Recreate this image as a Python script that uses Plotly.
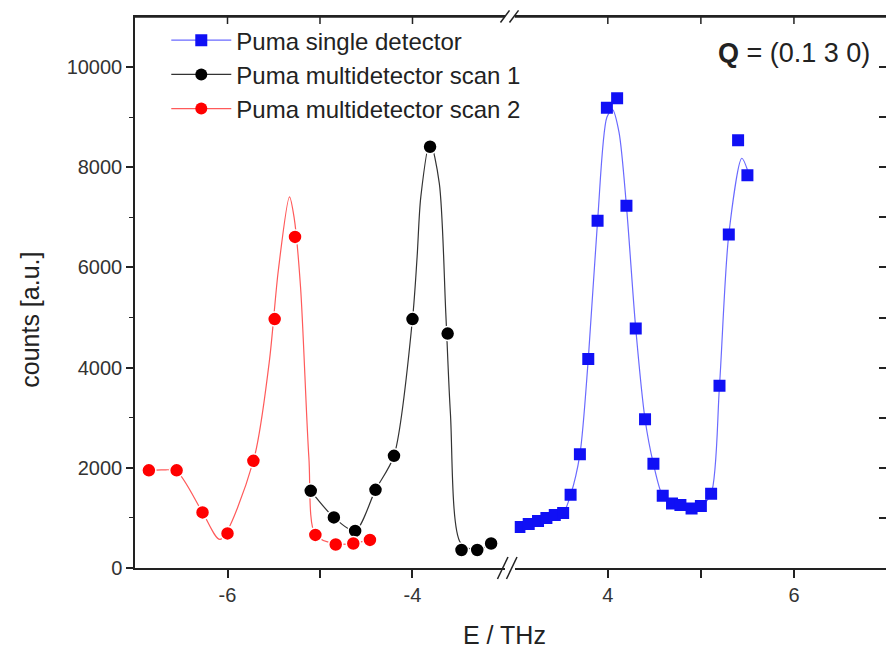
import plotly.graph_objects as go

# ---------------- data ----------------
# Puma single detector (positive energy side)
E_single = [3.05, 3.15, 3.25, 3.34, 3.43, 3.52, 3.60, 3.70, 3.79, 3.89, 3.99, 4.10, 4.20,
            4.30, 4.40, 4.49, 4.59, 4.69, 4.78, 4.90, 5.00, 5.11, 5.20, 5.30, 5.40, 5.50]
C_single = [820, 880, 940, 1000, 1060, 1100, 1460, 2270, 4170, 6930, 9190, 9380, 7230,
            4780, 2970, 2080, 1440, 1290, 1260, 1190, 1240, 1480, 3640, 6660, 8540, 7840]
# fitted curve drawn through the single detector data
E_single_fit = [3.05, 3.15, 3.25, 3.34, 3.43, 3.52, 3.60, 3.70, 3.79, 3.89, 3.99, 4.05, 4.12,
                4.20, 4.30, 4.40, 4.49, 4.59, 4.69, 4.78, 4.90, 5.00, 5.11, 5.20, 5.30, 5.44, 5.50]
C_single_fit = [820, 880, 940, 1000, 1060, 1100, 1460, 2270, 4170, 6930, 9000, 9150, 8700,
                7230, 4780, 2970, 2080, 1440, 1290, 1260, 1190, 1240, 1480, 3640, 6660, 8180, 7950]

# Puma multidetector scan 1
E_scan1 = [-5.10, -4.85, -4.62, -4.40, -4.20, -4.00, -3.81, -3.62, -3.47, -3.30, -3.15]
C_scan1 = [1540, 1010, 740, 1560, 2240, 4970, 8410, 4680, 360, 360, 490]
E_scan1_fit = [-5.10, -4.85, -4.62, -4.40, -4.20, -4.00, -3.95, -3.91, -3.81, -3.71,
               -3.64, -3.59, -3.48, -3.30, -3.15]
C_scan1_fit = [1540, 1010, 740, 1560, 2240, 4970, 6210, 7410, 8500, 7680,
               5090, 3090, 500, 360, 490]

# Puma multidetector scan 2
E_scan2 = [-6.85, -6.55, -6.27, -6.00, -5.72, -5.49, -5.27, -5.05, -4.83, -4.64, -4.46]
C_scan2 = [1950, 1950, 1110, 690, 2140, 4970, 6610, 660, 470, 490, 560]
E_scan2_fit = [-6.85, -6.70, -6.55, -6.27, -6.08, -5.72, -5.55, -5.45, -5.33, -5.28, -5.21,
               -5.12, -5.05, -4.83, -4.64, -4.46]
C_scan2_fit = [1950, 1960, 1930, 1110, 570, 2140, 4090, 5950, 7410, 7000, 5600,
               2200, 660, 480, 490, 560]

names = ["Puma single detector", "Puma multidetector scan 1", "Puma multidetector scan 2"]

x_left_ticks = [-6, -5, -4]
x_left_text = ["-6", "", "-4"]
x_right_ticks = [4, 5, 6]
x_right_text = ["4", "", "6"]
y_ticks = [0, 2000, 4000, 6000, 8000, 10000]
y_text = ["0", "2000", "4000", "6000", "8000", "10000"]
y_minor = [1000, 3000, 5000, 7000, 9000]

# ---------------- styling ----------------
FONT = "Arial, Liberation Sans, sans-serif"
BLUE, BLUE_LINE = "#1010f5", "#6a6aff"
BLACK, BLACK_LINE = "#000000", "#333333"
RED, RED_LINE = "#ff0000", "#ff5a5a"
AX = "#222222"
PLOT_H = 551.0  # plot-area height in px (used to express tick length in paper units)

fig = go.Figure()

# empty trace so that the right frame axis gets drawn
fig.add_trace(go.Scatter(x=[None], y=[None], xaxis="x2", yaxis="y2", showlegend=False,
                         hoverinfo="skip"))

# fit curves
fig.add_trace(go.Scatter(x=E_single_fit, y=C_single_fit, xaxis="x2", yaxis="y", mode="lines",
                         line=dict(color=BLUE_LINE, width=1.2, shape="spline", smoothing=0.8),
                         showlegend=False, hoverinfo="skip"))
fig.add_trace(go.Scatter(x=E_scan1_fit, y=C_scan1_fit, xaxis="x", yaxis="y", mode="lines",
                         line=dict(color=BLACK_LINE, width=1.2, shape="spline", smoothing=0.8),
                         showlegend=False, hoverinfo="skip"))
fig.add_trace(go.Scatter(x=E_scan2_fit, y=C_scan2_fit, xaxis="x", yaxis="y", mode="lines",
                         line=dict(color=RED_LINE, width=1.2, shape="spline", smoothing=0.8),
                         showlegend=False, hoverinfo="skip"))

# data markers
fig.add_trace(go.Scatter(x=E_single, y=C_single, xaxis="x2", yaxis="y", mode="markers",
                         marker=dict(symbol="square", size=12, color=BLUE),
                         showlegend=False, name=names[0]))
fig.add_trace(go.Scatter(x=E_scan1, y=C_scan1, xaxis="x", yaxis="y", mode="markers",
                         marker=dict(symbol="circle", size=14, color=BLACK,
                                     line=dict(color="white", width=1.5)),
                         showlegend=False, name=names[1]))
fig.add_trace(go.Scatter(x=E_scan2, y=C_scan2, xaxis="x", yaxis="y", mode="markers",
                         marker=dict(symbol="circle", size=14, color=RED,
                                     line=dict(color="white", width=1.5)),
                         showlegend=False, name=names[2]))

# legend entries (line + symbol)
for nm, lc, mc, sym in [(names[0], BLUE_LINE, BLUE, "square"),
                        (names[1], BLACK_LINE, BLACK, "circle"),
                        (names[2], RED_LINE, RED, "circle")]:
    fig.add_trace(go.Scatter(x=[None], y=[None], xaxis="x", yaxis="y", mode="lines+markers",
                             name=nm, line=dict(color=lc, width=1.2),
                             marker=dict(symbol=sym, size=12, color=mc)))

# ---------------- layout ----------------
L0, R0 = 0.492, 0.505
common_x = dict(showline=True, mirror=True, linecolor=AX, linewidth=1.5, showgrid=False,
                zeroline=False, ticks="outside", ticklen=8, tickwidth=1.5, tickcolor=AX,
                automargin=False, tickfont=dict(family=FONT, size=20, color="#333333"))

fig.update_layout(
    width=886, height=644,
    margin=dict(l=127, r=7, t=9, b=84, autoexpand=False),
    paper_bgcolor="white", plot_bgcolor="rgba(0,0,0,0)",
    font=dict(family=FONT, color="#222222"),
    xaxis=dict(domain=[0, L0], range=[-7, -3], tickmode="array",
               tickvals=x_left_ticks, ticktext=x_left_text, anchor="y", **common_x),
    xaxis2=dict(domain=[R0, 1], range=[3, 7], tickmode="array",
                tickvals=x_right_ticks, ticktext=x_right_text, anchor="y", **common_x),
    yaxis=dict(domain=[0, 1], range=[0, 11000], tickmode="array", tickvals=y_ticks,
               ticktext=y_text, anchor="x", showline=True, linecolor=AX, linewidth=1.5,
               showgrid=False, zeroline=False, ticks="outside", ticklen=7, tickwidth=1.5,
               tickcolor=AX, automargin=False,
               tickfont=dict(family=FONT, size=20, color="#333333"),
               minor=dict(tickmode="array", tickvals=y_minor,
                          ticks="outside", ticklen=4, tickwidth=1.2, tickcolor=AX)),
    yaxis2=dict(domain=[0, 1], side="right", anchor="free", position=1, range=[0, 11000],
                tickmode="linear", tick0=0, dtick=1000, showticklabels=False,
                showline=True, linecolor=AX, linewidth=1.5, showgrid=False, zeroline=False,
                ticks="inside", ticklen=7, tickwidth=1.5, tickcolor=AX, automargin=False),
    legend=dict(x=0.0416, y=0.998, xanchor="left", yanchor="top",
                bgcolor="rgba(0,0,0,0)", font=dict(family=FONT, size=24, color="#222222"),
                itemwidth=60, tracegroupgap=0),
    showlegend=True,
)

# top frame line of each axis segment, with inward ticks at the tick values
for ax_id, tvals in (("x", x_left_ticks), ("x2", x_right_ticks)):
    fig.add_shape(type="line", xref=f"{ax_id} domain", yref="paper", x0=0, x1=1, y0=1, y1=1,
                  line=dict(color=AX, width=1.5), layer="above")
    for tv in tvals:
        fig.add_shape(type="line", xref=ax_id, yref="paper", x0=tv, x1=tv,
                      y0=1, y1=1 - 7 / PLOT_H, line=dict(color=AX, width=1.5), layer="above")

# axis titles and label
fig.add_annotation(text="E / THz", xref="paper", yref="paper", x=0.492, y=-0.121,
                   xanchor="center", yanchor="middle", showarrow=False,
                   font=dict(family=FONT, size=25, color="#222222"))
fig.add_annotation(text="counts [a.u.]", xref="paper", yref="paper", x=-0.14, y=0.45,
                   xanchor="center", yanchor="middle", textangle=-90, showarrow=False,
                   font=dict(family=FONT, size=25, color="#222222"))
fig.add_annotation(text="<b>Q</b> = (0.1 3 0)", xref="paper", yref="paper", x=0.98, y=0.935,
                   xanchor="right", yanchor="middle", showarrow=False,
                   font=dict(family=FONT, size=27, color="#222222"))

# axis-break marks
for x0 in (0.482, 0.494):
    fig.add_shape(type="line", xref="paper", yref="paper", x0=x0, y0=-0.02, x1=x0 + 0.014, y1=0.02,
                  line=dict(color=AX, width=1.5))
    fig.add_shape(type="line", xref="paper", yref="paper", x0=x0 + 0.004, y0=0.99, x1=x0 + 0.016, y1=1.012,
                  line=dict(color=AX, width=1.5))

fig.write_html("out.html")
